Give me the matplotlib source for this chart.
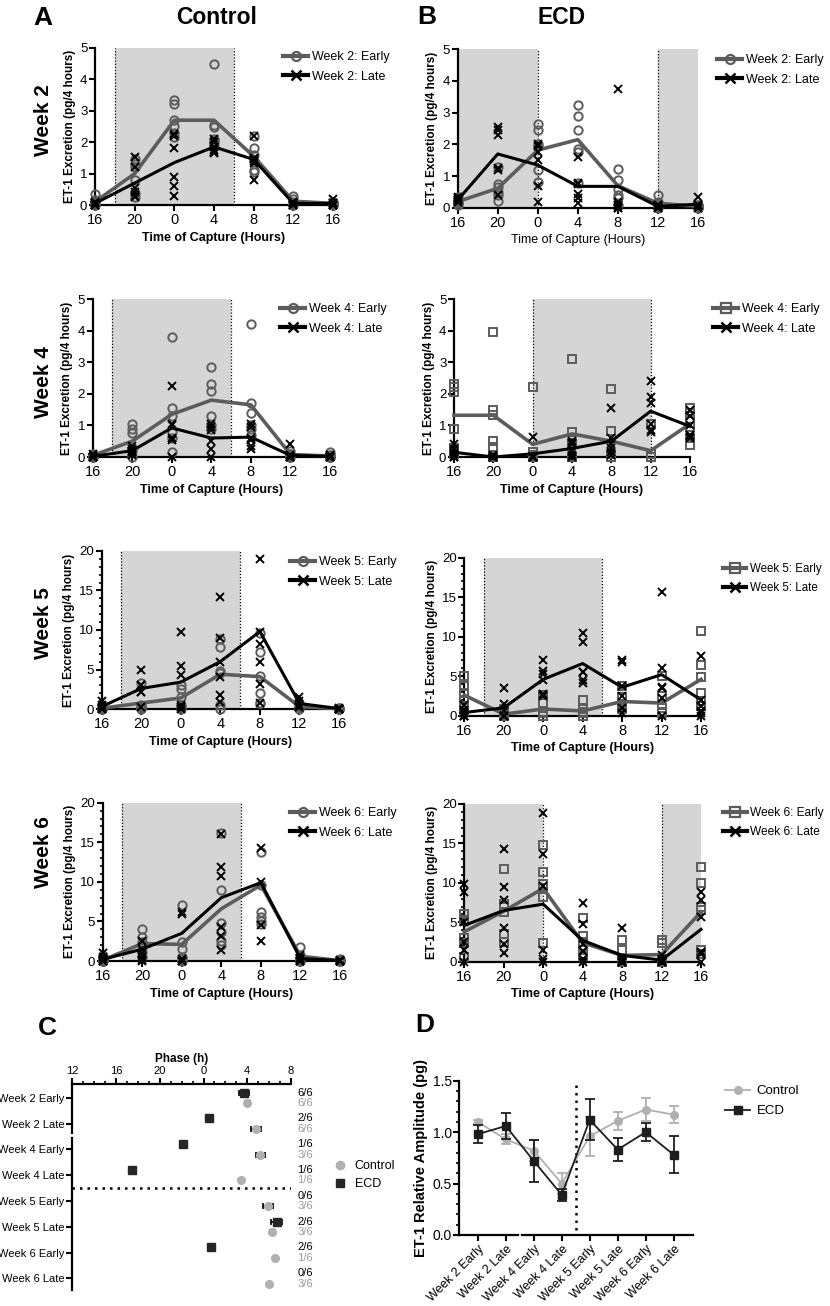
import matplotlib.pyplot as plt
import matplotlib.ticker as mticker
import numpy as np
from matplotlib.lines import Line2D

plt.rcParams.update(
    {
        "font.family": ["Liberation Sans", "DejaVu Sans"],
        "axes.linewidth": 1.6,
        "xtick.major.width": 1.5,
        "ytick.major.width": 1.5,
        "xtick.minor.width": 1.2,
        "ytick.minor.width": 1.2,
        "xtick.major.size": 4,
        "ytick.major.size": 4,
        "xtick.minor.size": 2.5,
        "ytick.minor.size": 2.5,
        "xtick.major.pad": 2,
        "ytick.major.pad": 1.5,
    }
)

W, H = 830, 1306
DARK = "#5c5c5c"
LIGHT = "#b0b0b0"
SHADE = "#d5d5d5"

# ── Data: time courses (x = hours after 16:00) ────────────────────────────────
hours = [0, 4, 8, 12, 16, 20, 24]
hour_labels = ["16", "20", "0", "4", "8", "12", "16"]

a2_early_pts = [[0.35, 0.15, 0.1, 0.05, 0.0, 0.0], [1.45, 1.3, 1.22, 0.8, 0.37, 0.27],
                [3.33, 3.22, 2.7, 2.52, 2.29, 2.18], [4.5, 2.55, 2.5, 2.1, 2.05, 1.95],
                [2.2, 1.8, 1.6, 1.4, 1.1, 1.05], [0.3, 0.2, 0.1, 0.05, 0.0, 0.0],
                [0.1, 0.05, 0.02, 0.0, 0.0, 0.0]]
a2_early_mean = [0.1, 1.0, 2.7, 2.7, 1.55, 0.12, 0.05]
a2_late_pts = [[0.1, 0.05, 0.0, 0.0, 0.0, 0.0], [1.54, 1.2, 0.55, 0.4, 0.3, 0.25],
               [2.25, 2.2, 1.8, 0.9, 0.6, 0.3], [2.1, 2.0, 1.85, 1.75, 1.7, 1.65],
               [2.2, 1.5, 1.45, 1.4, 1.35, 0.8], [0.1, 0.05, 0.05, 0.0, 0.0, 0.0],
               [0.2, 0.05, 0.05, 0.0, 0.0, 0.0]]
a2_late_mean = [0.05, 0.7, 1.35, 1.85, 1.45, 0.05, 0.05]

b2_early_pts = [[0.35, 0.25, 0.2, 0.2, 0.15, 0.1], [1.3, 0.75, 0.65, 0.5, 0.4, 0.22],
                [2.65, 2.45, 2.0, 1.95, 1.2, 0.82], [3.25, 2.9, 2.45, 1.85, 1.75, 0.8],
                [1.22, 0.88, 0.6, 0.4, 0.3, 0.1], [0.42, 0.2, 0.15, 0.1, 0.05, 0.0],
                [0.1, 0.1, 0.05, 0.05, 0.0, 0.0]]
b2_early_mean = [0.2, 0.62, 1.82, 2.15, 0.7, 0.15, 0.05]
b2_late_pts = [[0.35, 0.3, 0.25, 0.25, 0.2, 0.2], [2.55, 2.45, 2.3, 1.25, 1.2, 0.4],
               [2.0, 1.95, 1.75, 1.5, 0.7, 0.2], [1.6, 0.8, 0.75, 0.45, 0.3, 0.15],
               [3.75, 0.2, 0.1, 0.05, 0.0, 0.0], [0.1, 0.1, 0.05, 0.05, 0.0, 0.0],
               [0.35, 0.1, 0.1, 0.1, 0.05, 0.0]]
b2_late_mean = [0.25, 1.7, 1.35, 0.68, 0.68, 0.05, 0.12]

a4_early_pts = [[0.1, 0.05, 0.05, 0.0, 0.0, 0.0], [1.05, 0.9, 0.75, 0.3, 0.2, 0.0],
                [3.8, 1.55, 1.3, 0.8, 0.6, 0.15], [2.85, 2.3, 2.1, 1.3, 1.0, 0.9],
                [4.2, 1.7, 1.4, 1.0, 0.9, 0.7], [0.2, 0.1, 0.1, 0.05, 0.0, 0.0],
                [0.15, 0.05, 0.05, 0.0, 0.0, 0.0]]
a4_early_mean = [0.05, 0.5, 1.35, 1.8, 1.65, 0.08, 0.03]
a4_late_pts = [[0.1, 0.0, 0.0, 0.0, 0.0, 0.0], [0.35, 0.25, 0.2, 0.2, 0.15, 0.05],
               [2.25, 1.05, 1.0, 0.6, 0.55, 0.0], [1.05, 0.95, 0.85, 0.5, 0.25, 0.0],
               [1.05, 0.95, 0.6, 0.55, 0.35, 0.25], [0.4, 0.05, 0.0, 0.0, 0.0, 0.0],
               [0.05, 0.0, 0.0, 0.0, 0.0, 0.0]]
a4_late_mean = [0.02, 0.2, 0.92, 0.6, 0.63, 0.05, 0.02]

b4_early_pts = [[2.3, 2.2, 2.05, 0.9, 0.3, 0.1], [3.95, 1.48, 1.32, 0.52, 0.32, 0.0],
                [2.2, 0.15, 0.05, 0.0, 0.0, 0.0], [3.1, 0.8, 0.45, 0.0, 0.0, 0.0],
                [2.15, 0.82, 0.1, 0.0, 0.0, 0.0], [1.05, 0.1, 0.0, 0.0, 0.0, 0.0],
                [1.55, 1.4, 1.2, 0.95, 0.6, 0.38]]
b4_early_mean = [1.32, 1.32, 0.4, 0.73, 0.5, 0.2, 1.05]
b4_late_pts = [[0.4, 0.25, 0.15, 0.1, 0.0, 0.0], [0.05, 0.0, 0.0, 0.0, 0.0, 0.0],
               [0.62, 0.0, 0.0, 0.0, 0.0, 0.0], [0.5, 0.45, 0.4, 0.15, 0.05, 0.0],
               [1.55, 0.6, 0.4, 0.3, 0.15, 0.05], [2.4, 1.9, 1.72, 1.05, 0.85, 0.8],
               [1.5, 1.3, 1.0, 0.7, 0.65, 0.6]]
b4_late_mean = [0.15, 0.0, 0.1, 0.27, 0.5, 1.45, 0.97]

a5_early_pts = [[0.5, 0.2, 0.1, 0.0, 0.0, 0.0], [3.3, 0.5, 0.3, 0.2, 0.1, 0.0],
                [3.0, 2.5, 1.5, 0.5, 0.3, 0.0], [8.8, 7.8, 4.8, 4.5, 0.5, 0.0],
                [9.6, 7.2, 4.2, 2.0, 0.8, 0.8], [0.8, 0.4, 0.3, 0.2, 0.1, 0.0],
                [0.15, 0.1, 0.05, 0.0, 0.0, 0.0]]
a5_early_mean = [0.1, 0.75, 1.4, 4.4, 4.1, 0.3, 0.05]
a5_late_pts = [[1.0, 0.5, 0.2, 0.1, 0.0, 0.0], [4.9, 3.1, 3.0, 2.2, 2.1, 0.3],
               [9.7, 5.5, 4.3, 0.5, 0.3, 0.0], [14.2, 9.0, 6.0, 4.0, 1.8, 0.9],
               [19.0, 9.7, 8.2, 6.0, 3.2, 0.8], [1.5, 1.0, 0.5, 0.3, 0.3, 0.2],
               [0.1, 0.0, 0.0, 0.0, 0.0, 0.0]]
a5_late_mean = [0.3, 2.6, 3.4, 6.0, 9.8, 0.7, 0.05]

b5_early_pts = [[5.0, 3.8, 2.9, 2.0, 1.2, 0.6], [0.8, 0.5, 0.2, 0.0, 0.0, 0.0],
                [2.6, 1.6, 0.5, 0.3, 0.0, 0.0], [2.0, 0.8, 0.5, 0.3, 0.0, 0.0],
                [3.8, 2.4, 1.5, 1.2, 1.0, 0.9], [5.0, 2.5, 1.0, 0.5, 0.3, 0.3],
                [10.7, 6.4, 4.9, 2.9, 1.8, 1.2]]
b5_early_mean = [2.6, 0.2, 0.85, 0.6, 1.8, 1.6, 4.6]
b5_late_pts = [[1.4, 0.7, 0.3, 0.0, 0.0, 0.0], [3.5, 1.5, 0.6, 0.0, 0.0, 0.0],
               [7.1, 5.7, 5.3, 4.5, 2.8, 2.5], [10.5, 9.3, 5.5, 5.5, 4.5, 4.2],
               [7.0, 6.8, 3.7, 2.5, 1.0, 0.3], [15.7, 6.1, 3.6, 3.5, 2.3, 0.0],
               [7.5, 2.0, 1.2, 0.6, 0.3, 0.0]]
b5_late_mean = [0.4, 1.0, 4.6, 6.6, 3.6, 5.2, 2.0]

a6_early_pts = [[0.6, 0.3, 0.1, 0.0, 0.0, 0.0], [4.1, 3.0, 2.4, 2.0, 1.1, 0.5],
                [7.1, 2.4, 1.5, 0.5, 0.3, 0.0], [16.2, 9.0, 4.8, 3.7, 2.5, 2.0],
                [13.8, 9.6, 6.2, 5.6, 5.0, 4.7], [1.8, 0.8, 0.3, 0.2, 0.0, 0.0],
                [0.2, 0.1, 0.0, 0.0, 0.0, 0.0]]
a6_early_mean = [0.1, 2.2, 2.1, 6.6, 9.6, 0.6, 0.05]
a6_late_pts = [[1.0, 0.5, 0.2, 0.0, 0.0, 0.0], [2.5, 1.5, 1.0, 0.5, 0.15, 0.0],
               [6.2, 5.9, 0.2, 0.0, 0.0, 0.0], [16.0, 11.9, 10.8, 4.3, 3.2, 1.4],
               [14.3, 10.0, 4.5, 2.5], [0.8, 0.4, 0.2, 0.0, 0.0, 0.0],
               [0.1, 0.0, 0.0, 0.0, 0.0, 0.0]]
a6_late_mean = [0.2, 1.5, 3.5, 8.0, 9.9, 0.3, 0.05]

b6_early_pts = [[6.0, 5.3, 5.2, 3.0, 2.4, 0.6], [11.8, 7.3, 7.0, 6.3, 3.5, 2.5],
                [14.8, 11.4, 9.8, 9.3, 8.2, 2.4], [5.6, 3.2, 2.5, 1.5, 1.0, 0.7],
                [2.8, 1.5, 0.5, 0.0, 0.0, 0.0], [2.8, 2.4, 0.3, 0.0, 0.0, 0.0],
                [12.0, 10.0, 7.0, 6.5, 1.5, 1.0]]
b6_early_mean = [3.8, 6.4, 9.3, 2.4, 0.8, 0.9, 6.3]
b6_late_pts = [[9.8, 8.8, 5.0, 2.5, 1.5, 0.0], [14.3, 9.5, 7.8, 4.3, 2.2, 1.1],
               [18.8, 13.6, 9.6, 1.5, 0.3, 0.0], [7.5, 4.8, 2.3, 1.4, 0.3, 0.0],
               [4.3, 0.3, 0.0, 0.0, 0.0, 0.0], [0.8, 0.3, 0.1, 0.0, 0.0, 0.0],
               [8.8, 7.8, 5.7, 1.2, 1.0, 0.0]]
b6_late_mean = [4.6, 6.5, 7.3, 2.7, 0.8, 0.2, 4.1]

# dark phase (x units), one list of spans per panel
ctrl_dark = [(2, 14)]
ecd_dark_w2 = [(0, 8), (20, 24)]
ecd_dark_w4 = [(8, 20)]
ecd_dark_w5 = [(2, 14)]
ecd_dark_w6 = [(0, 8), (20, 24)]

# ── Data: panel C (phase) and D (amplitude) ───────────────────────────────────
groups = ["Week 2 Early", "Week 2 Late", "Week 4 Early", "Week 4 Late",
          "Week 5 Early", "Week 5 Late", "Week 6 Early", "Week 6 Late"]
ecd_phase = [3.7, 0.5, 22.1, 17.5, np.nan, 6.7, 0.65, np.nan]
ecd_phase_sem = [0.45, 0.0, 0.0, 0.0, np.nan, 0.52, 0.2, np.nan]
ctrl_phase = [4.0, 4.8, 5.2, 3.4, 5.9, 6.3, 6.5, 6.0]
ctrl_phase_sem = [0.25, 0.42, 0.4, 0.0, 0.44, 0.26, 0.0, 0.0]
ecd_n = ["6/6", "2/6", "1/6", "1/6", "0/6", "2/6", "2/6", "0/6"]
ctrl_n = ["6/6", "6/6", "3/6", "1/6", "3/6", "3/6", "1/6", "3/6"]

ctrl_amp = [1.10, 0.93, 0.82, 0.50, 0.96, 1.11, 1.22, 1.17]
ctrl_amp_sem = [0.02, 0.05, 0.10, 0.10, 0.19, 0.09, 0.11, 0.08]
ecd_amp = [0.98, 1.06, 0.72, 0.39, 1.12, 0.83, 1.00, 0.78]
ecd_amp_sem = [0.09, 0.13, 0.20, 0.06, 0.20, 0.11, 0.09, 0.18]

fig = plt.figure(figsize=(W / 100, H / 100), dpi=100)


def px_axes(x0, y0, x1, y1):
    return fig.add_axes([x0 / W, 1 - y1 / H, (x1 - x0) / W, (y1 - y0) / H])


def time_panel(box, dark, early_pts, early_mean, late_pts, late_mean, ymax,
               early_marker, week, leg_xy, bold_xlabel=True, leg_fs=9):
    ax = px_axes(*box)
    for lo, hi in dark:
        ax.axvspan(lo, hi, color=SHADE, lw=0, zorder=0)
        for edge in (lo, hi):
            if 0 < edge < 24:
                ax.axvline(edge, color="black", lw=0.9, ls=(0, (1, 1.5)), zorder=1)

    for h, vals in zip(hours, early_pts):
        ax.plot([h] * len(vals), vals, ls="none", marker=early_marker, ms=6,
                mfc="none", mec=DARK, mew=1.4, clip_on=False, zorder=3)
    ax.plot(hours, early_mean, color=DARK, lw=2.6, clip_on=False, zorder=4)
    for h, vals in zip(hours, late_pts):
        ax.plot([h] * len(vals), vals, ls="none", marker="x", ms=6,
                mec="black", mew=1.4, clip_on=False, zorder=5)
    ax.plot(hours, late_mean, color="black", lw=2.2, clip_on=False, zorder=6)

    ax.set_xlim(0, 24)
    ax.set_ylim(0, ymax)
    ax.set_xticks(hours)
    ax.set_xticklabels(hour_labels, fontsize=10.5)
    if ymax > 5:
        ax.yaxis.set_major_locator(mticker.MultipleLocator(5))
        ax.yaxis.set_minor_locator(mticker.MultipleLocator(1))
    else:
        ax.yaxis.set_major_locator(mticker.MultipleLocator(1))
    ax.tick_params(axis="y", labelsize=9.5)
    for s in ("top", "right"):
        ax.spines[s].set_visible(False)
    ax.set_xlabel("Time of Capture (Hours)", fontsize=9,
                  fontweight="bold" if bold_xlabel else "normal", labelpad=3)
    ax.set_ylabel("ET-1 Excretion (pg/4 hours)", fontsize=8.5,
                  fontweight="bold", labelpad=3)

    handles = [
        Line2D([], [], color=DARK, lw=3, marker=early_marker, ms=6.5,
               mfc="none", mec=DARK, mew=1.6),
        Line2D([], [], color="black", lw=3, marker="x", ms=6.5, mew=1.8),
    ]
    x, y = leg_xy
    ax.legend(handles, [f"Week {week}: Early", f"Week {week}: Late"],
              loc="upper left", bbox_to_anchor=(x / W, 1 - (y - 7) / H),
              bbox_transform=fig.transFigure, frameon=False, fontsize=leg_fs,
              borderpad=0, borderaxespad=0, handlelength=2.0,
              handletextpad=0.3, labelspacing=0.62)
    return ax


# ── A / B: ET-1 excretion time courses ───────────────────────────────────────
time_panel((95, 48, 333, 205), ctrl_dark, a2_early_pts, a2_early_mean,
           a2_late_pts, a2_late_mean, 5, "o", 2, (283, 58))
time_panel((457.7, 49, 698, 208), ecd_dark_w2, b2_early_pts, b2_early_mean,
           b2_late_pts, b2_late_mean, 5, "o", 2, (717, 61), bold_xlabel=False)
time_panel((92.7, 299, 330, 457), ctrl_dark, a4_early_pts, a4_early_mean,
           a4_late_pts, a4_late_mean, 5, "o", 4, (280, 310))
time_panel((454, 299, 690, 457), ecd_dark_w4, b4_early_pts, b4_early_mean,
           b4_late_pts, b4_late_mean, 5, "s", 4, (713, 310))
time_panel((101.7, 551, 339, 709), ctrl_dark, a5_early_pts, a5_early_mean,
           a5_late_pts, a5_late_mean, 20, "o", 5, (290, 563))
time_panel((464.3, 557.7, 701, 715.7), ecd_dark_w5, b5_early_pts, b5_early_mean,
           b5_late_pts, b5_late_mean, 20, "s", 5, (723, 570), leg_fs=8.3)
time_panel((102.7, 802.7, 340, 961), ctrl_dark, a6_early_pts, a6_early_mean,
           a6_late_pts, a6_late_mean, 20, "o", 6, (290, 814))
time_panel((464.3, 804, 701, 961.7), ecd_dark_w6, b6_early_pts, b6_early_mean,
           b6_late_pts, b6_late_mean, 20, "s", 6, (723, 814), leg_fs=8.6)

for label, yc in [("Week 2", 120), ("Week 4", 382), ("Week 5", 623), ("Week 6", 852)]:
    fig.text(43 / W, 1 - yc / H, label, rotation=90, fontsize=15,
             fontweight="bold", ha="center", va="center")

fig.text(217 / W, 1 - 18 / H, "Control", fontsize=16.5, fontweight="bold",
         ha="center", va="center")
fig.text(562 / W, 1 - 17 / H, "ECD", fontsize=16.5, fontweight="bold",
         ha="center", va="center")
for letter, x, y in [("A", 43, 18), ("B", 427, 17), ("C", 47, 1028), ("D", 425, 1025)]:
    fig.text(x / W, 1 - y / H, letter, fontsize=19, fontweight="bold",
             ha="center", va="center")

# ── C: phase ─────────────────────────────────────────────────────────────────
axc = px_axes(72.3, 1084.3, 291, 1290)
rows = np.arange(len(groups))
ecd_x = [p + 24 if p < 12 else p for p in ecd_phase]
ctrl_x = [p + 24 if p < 12 else p for p in ctrl_phase]
off = 0.2
axc.errorbar(ctrl_x, rows + off, xerr=ctrl_phase_sem, fmt="o", ms=5.5,
             color=LIGHT, mec=LIGHT, ecolor="black", elinewidth=1.2, capsize=2.5,
             capthick=1.2, zorder=3)
axc.errorbar(ecd_x, rows - off, xerr=ecd_phase_sem, fmt="s", ms=5.5,
             color="#262626", ecolor="black", elinewidth=1.2, capsize=2.5,
             capthick=1.2, zorder=4)
axc.set_xlim(12, 32)
axc.set_ylim(7.45, -0.52)
axc.xaxis.tick_top()
axc.xaxis.set_label_position("top")
axc.set_xticks([12, 16, 20, 24, 28, 32])
axc.set_xticklabels(["12", "16", "20", "0", "4", "8"], fontsize=8)
axc.xaxis.set_minor_locator(mticker.MultipleLocator(1))
axc.set_xlabel("Phase (h)", fontsize=8.5, fontweight="bold", labelpad=3)
axc.set_yticks(rows)
axc.set_yticklabels(groups, fontsize=8)
axc.tick_params(axis="y", length=4)
for s in ("bottom", "right", "left"):
    axc.spines[s].set_visible(False)
ltrans = axc.get_yaxis_transform()
axc.plot([0, 0], [-0.52, 1.36], color="black", lw=1.6, transform=ltrans, clip_on=False)
axc.plot([0, 0], [1.56, 7.45], color="black", lw=1.6, transform=ltrans, clip_on=False)
axc.axhline(3.5, color="black", lw=1.8, ls=(0, (1, 2)), zorder=1)
for r, ne, nc in zip(rows, ecd_n, ctrl_n):
    axc.text(1.03, r - 0.2, ne, transform=ltrans, fontsize=8, color="black",
             va="center", ha="left")
    axc.text(1.03, r + 0.2, nc, transform=ltrans, fontsize=8, color="#9a9a9a",
             va="center", ha="left")
c_handles = [
    Line2D([], [], ls="none", marker="o", ms=6, color=LIGHT),
    Line2D([], [], ls="none", marker="s", ms=5.5, color="#262626"),
]
axc.legend(c_handles, ["Control", "ECD"], loc="upper left",
           bbox_to_anchor=(332 / W, 1 - 1160 / H), bbox_transform=fig.transFigure,
           frameon=False, fontsize=9, borderpad=0, borderaxespad=0,
           handlelength=1.2, handletextpad=0.6, labelspacing=0.5)

# ── D: amplitude ─────────────────────────────────────────────────────────────
axd = px_axes(459.3, 1080.7, 693, 1235)
xi = np.arange(len(groups))
axd.errorbar(xi, ctrl_amp, yerr=ctrl_amp_sem, fmt="-o", ms=5.5, color=LIGHT,
             lw=1.3, elinewidth=1.3, capsize=3.5, capthick=1.3, zorder=3)
axd.errorbar(xi, ecd_amp, yerr=ecd_amp_sem, fmt="-s", ms=5.5, color="#1e1e1e",
             lw=1.3, elinewidth=1.3, capsize=3.5, capthick=1.3, zorder=4)
axd.axvline(3.5, ymin=0.035, ymax=0.99, color="black", lw=1.8,
            ls=(0, (1, 2)), zorder=1)
axd.set_xlim(-0.66, 7.69)
axd.set_ylim(0, 1.5)
axd.yaxis.set_major_locator(mticker.MultipleLocator(0.5))
axd.yaxis.set_minor_locator(mticker.MultipleLocator(0.1))
axd.yaxis.set_major_formatter(mticker.FormatStrFormatter("%.1f"))
axd.tick_params(axis="y", labelsize=10)
axd.set_xticks(xi)
axd.set_xticklabels(groups, fontsize=9, rotation=45, ha="right",
                    rotation_mode="anchor")
axd.set_ylabel("ET-1 Relative Amplitude (pg)", fontsize=10.5, fontweight="bold",
               labelpad=3)
for s in ("top", "right", "bottom"):
    axd.spines[s].set_visible(False)
btrans = axd.get_xaxis_transform()
axd.plot([-0.66, 1.44], [0, 0], color="black", lw=1.6, transform=btrans, clip_on=False)
axd.plot([1.58, 7.69], [0, 0], color="black", lw=1.6, transform=btrans, clip_on=False)
d_handles = [
    Line2D([], [], color=LIGHT, lw=1.3, marker="o", ms=5.5),
    Line2D([], [], color="#1e1e1e", lw=1.3, marker="s", ms=5.5),
]
axd.legend(d_handles, ["Control", "ECD"], loc="upper left",
           bbox_to_anchor=(725 / W, 1 - 1085 / H), bbox_transform=fig.transFigure,
           frameon=False, fontsize=9.5, borderpad=0, borderaxespad=0,
           handlelength=1.9, handletextpad=0.5, labelspacing=0.6)

fig.savefig("out.png", dpi=100)
